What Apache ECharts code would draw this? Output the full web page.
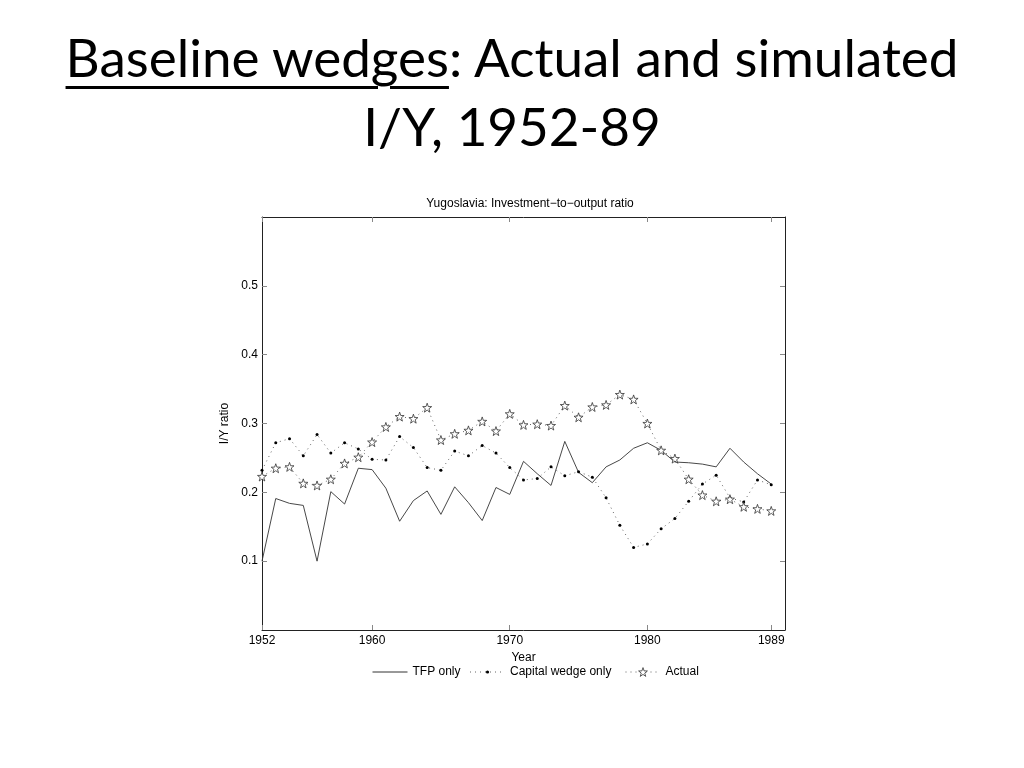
<!doctype html>
<html>
<head>
<meta charset="utf-8">
<title>Baseline wedges: Actual and simulated I/Y</title>
<style>
	html,body{height:100%;padding:0;margin:0;background:#fff;}
	#head{position:absolute;left:0;top:0;width:1024px;text-align:center;
		font-family:Lato,"Open Sans",sans-serif;font-size:53px;line-height:69px;color:#000;padding-top:22px;}
	#head u{text-decoration-thickness:3px;text-underline-offset:9px;}
	#chart{position:absolute;left:0;top:0;width:1024px;height:768px;}
</style>
</head>
<body>
<div id="chart"></div>
<div id="head"><u>Baseline wedges</u>: Actual and simulated<br>I/Y, 1952-89</div>
<script src="https://cdn.jsdelivr.net/npm/echarts@6.0.0/dist/echarts.min.js"></script>
<script>
var years = [];
for (var y = 1952; y <= 1989; y++) years.push(y);

var tfpOnly = [0.100,0.191,0.184,0.181,0.100,0.201,0.183,0.235,0.233,0.206,0.158,0.188,0.202,0.168,0.208,0.185,0.159,0.207,
	0.197,0.245,0.227,0.210,0.274,0.229,0.214,0.237,0.247,0.264,0.272,0.261,0.244,0.243,0.241,0.237,0.264,0.244,0.227,0.212];
var capitalWedge = [0.232,0.272,0.278,0.253,0.284,0.257,0.272,0.263,0.248,0.247,0.281,0.265,0.236,0.232,0.260,0.253,0.268,0.257,
	0.236,0.218,0.220,0.237,0.224,0.230,0.222,0.192,0.152,0.120,0.125,0.147,0.162,0.187,0.212,0.225,0.192,0.186,0.218,0.211];
var actual = [0.223,0.235,0.237,0.213,0.210,0.219,0.242,0.251,0.273,0.295,0.310,0.307,0.323,0.276,0.285,0.290,0.303,0.289,
	0.314,0.298,0.299,0.297,0.326,0.309,0.324,0.327,0.342,0.335,0.300,0.261,0.249,0.219,0.196,0.187,0.190,0.179,0.176,0.173];

var xTicks = [1952, 1960, 1970, 1980, 1989];
var yTicks = [0.1, 0.2, 0.3, 0.4, 0.5];

function pairs(vals){
	return years.map(function(yr, i){ return [yr, vals[i]]; });
}

var star = 'path://M0,-10 L2.35,-3.24 L9.51,-3.09 L3.8,1.24 L5.88,8.09 L0,4 L-5.88,8.09 L-3.8,1.24 L-9.51,-3.09 L-2.35,-3.24 Z';
var font = '"Liberation Sans", Arial, sans-serif';
var axisCol = '#222';
var starStyle = {color: '#fff', borderColor: '#333', borderWidth: 0.8};

function xAx(pos, labels){
	return {
		type: 'value', position: pos, min: 1952, max: 1990,
		name: labels ? 'Year' : '', nameLocation: 'middle', nameGap: 21,
		nameTextStyle: {fontFamily: font, fontSize: 12, color: '#000'},
		axisLine: {show: true, onZero: false, lineStyle: {color: axisCol, width: 1}},
		axisTick: {show: true, inside: true, length: 5, customValues: xTicks, lineStyle: {color: '#888'}},
		axisLabel: {show: labels, customValues: xTicks, margin: 5, fontFamily: font, fontSize: 12, color: '#000',
			formatter: function(v){ return String(v); }},
		splitLine: {show: false}
	};
}
function yAx(pos, labels){
	return {
		type: 'value', position: pos, min: 0, max: 0.6,
		name: labels ? 'I/Y ratio' : '', nameLocation: 'middle', nameGap: 27,
		nameTextStyle: {fontFamily: font, fontSize: 12, color: '#000'},
		axisLine: {show: true, onZero: false, lineStyle: {color: axisCol, width: 1}},
		axisTick: {show: true, inside: true, length: 5, customValues: yTicks, lineStyle: {color: '#888'}},
		axisLabel: {show: labels, customValues: yTicks, margin: 4, fontFamily: font, fontSize: 12, color: '#000',
			formatter: function(v){ return v.toFixed(1); }},
		splitLine: {show: false}
	};
}

var legendText = {fontFamily: font, fontSize: 12, color: '#000'};

var myChart = echarts.init(document.getElementById('chart'));
var option = {
	animation: false,
	backgroundColor: '#fff',
	title: {
		text: 'Yugoslavia: Investment\u2212to\u2212output ratio',
		left: 525, top: 193, textAlign: 'center',
		textStyle: {fontFamily: font, fontSize: 12, fontWeight: 'normal', color: '#000'}
	},
	grid: {left: 262, right: 239, top: 217, bottom: 138},
	legend: [
		{
			left: 372, top: 666, padding: 0, itemWidth: 35, itemHeight: 4, itemGap: 9,
			textStyle: legendText,
			lineStyle: {width: 1},
			data: ['TFP only', 'Capital wedge only']
		},
		{
			left: 625, top: 666, padding: 0, itemWidth: 35, itemHeight: 11,
			textStyle: legendText,
			lineStyle: {width: 1},
			itemStyle: starStyle,
			data: [{name: 'Actual', itemStyle: starStyle}]
		}
	],
	xAxis: [xAx('bottom', true), xAx('top', false)],
	yAxis: [yAx('left', true), yAx('right', false)],
	series: [
		{
			name: 'TFP only', type: 'line', data: pairs(tfpOnly),
			symbol: 'none', lineStyle: {color: '#333', width: 0.9},
			itemStyle: {color: 'rgba(0,0,0,0)'}
		},
		{
			name: 'Capital wedge only', type: 'line', data: pairs(capitalWedge),
			symbol: 'circle', symbolSize: 3,
			lineStyle: {color: '#666', width: 1, type: [1, 4]},
			itemStyle: {color: '#000'}
		},
		{
			name: 'Actual', type: 'line', data: pairs(actual),
			symbol: star, symbolSize: 9,
			lineStyle: {color: '#666', width: 1, type: [1, 4]},
			itemStyle: starStyle
		}
	]
};
myChart.setOption(option);
</script>
</body>
</html>
